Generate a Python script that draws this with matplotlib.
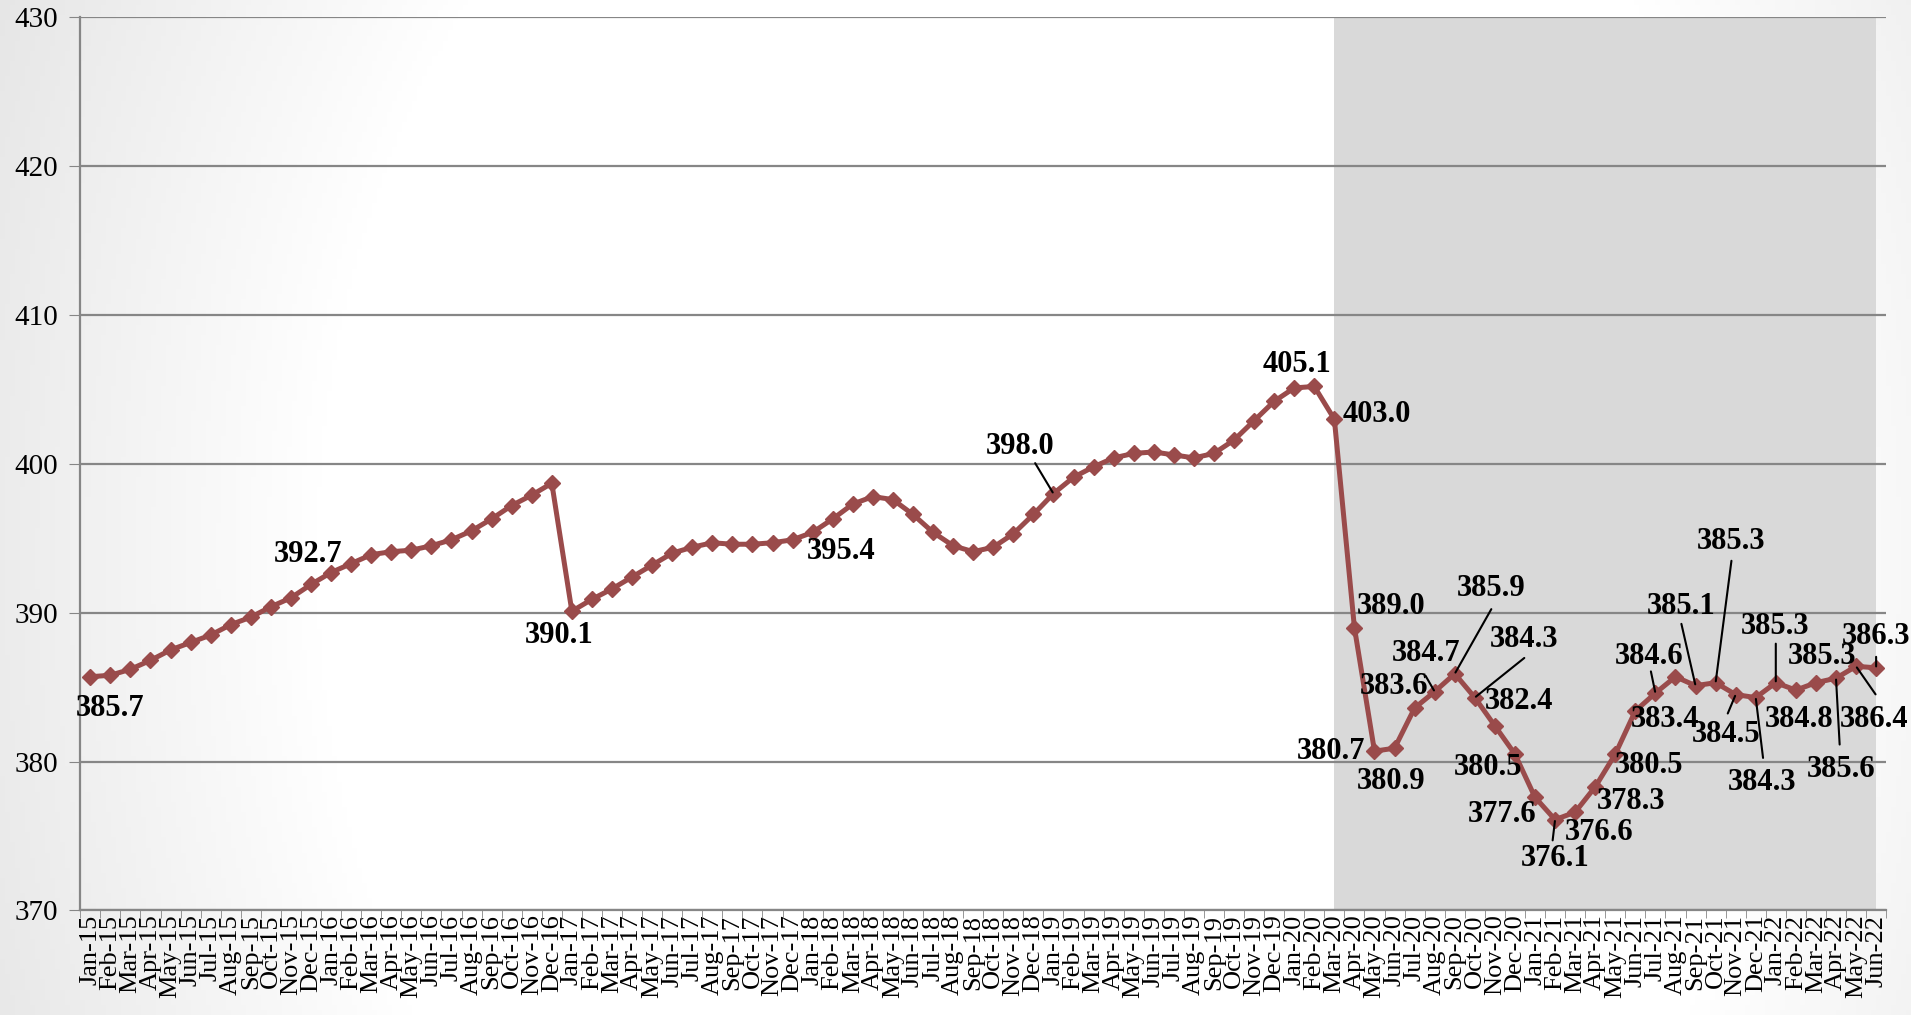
import numpy as np
import matplotlib
matplotlib.use("Agg")
import matplotlib.pyplot as plt

# monthly values Jan-15 .. Jun-22
months = ["Jan", "Feb", "Mar", "Apr", "May", "Jun",
          "Jul", "Aug", "Sep", "Oct", "Nov", "Dec"]
years = ["15", "16", "17", "18", "19", "20", "21", "22"]
tick_labels = [f"{m}-{y}" for y in years for m in months][:90]

v2015 = [385.7, 385.8, 386.2, 386.8, 387.5, 388.0, 388.5, 389.2, 389.7, 390.4, 391.0, 391.9]
v2016 = [392.7, 393.3, 393.9, 394.1, 394.2, 394.5, 394.9, 395.5, 396.3, 397.2, 397.9, 398.7]
v2017 = [390.1, 390.9, 391.6, 392.4, 393.2, 394.0, 394.4, 394.7, 394.6, 394.6, 394.7, 394.9]
v2018 = [395.4, 396.3, 397.3, 397.8, 397.6, 396.6, 395.4, 394.5, 394.1, 394.4, 395.3, 396.6]
v2019 = [398.0, 399.1, 399.8, 400.4, 400.7, 400.8, 400.6, 400.4, 400.7, 401.6, 402.9, 404.2]
v2020 = [405.1, 405.2, 403.0, 389.0, 380.7, 380.9, 383.6, 384.7, 385.9, 384.3, 382.4, 380.5]
v2021 = [377.6, 376.1, 376.6, 378.3, 380.5, 383.4, 384.6, 385.7, 385.1, 385.3, 384.5, 384.3]
v2022 = [385.3, 384.8, 385.3, 385.6, 386.4, 386.3]
values = v2015 + v2016 + v2017 + v2018 + v2019 + v2020 + v2021 + v2022

shade_start = "Mar-20"

# label placement (pixel offsets from the point: label centre, optional leader start)
label_pos = {
    0: ((16, 26), None), 12: ((-19, -15), None), 24: ((-10, 20), None),
    36: ((23, 16), None), 48: ((-27, -39), (-15, -25)), 60: ((2, -19), None),
    62: ((35, -4), None), 63: ((30, -17), None), 64: ((-36, 0), None),
    65: ((-3, 27), None), 66: ((-17, -18), None), 67: ((-7, -31), (-7.5, -13)),
    68: ((30, -70), (30, -53)), 69: ((40, -48), (40.6, -32.5)), 70: ((20, -20), None),
    71: ((-22, 11), None), 72: ((-27, 14), None), 73: ((0, 32), (-2, 17)),
    74: ((20, 17), None), 75: ((29.5, 12), None), 76: ((28, 9.5), None),
    77: ((24, 7), None), 78: ((-5, -30), (-3.7, -17.8)), 80: ((-12, -65), (-11.6, -50.7)),
    81: ((12.6, -116), (13, -100)), 82: ((-8, 33), (-6.5, 15.5)), 83: ((5.5, 70), (6, 49.5)),
    84: ((-0.5, -46), (0, -32)), 85: ((2.6, 24), None), 86: ((5.4, -21.5), None),
    87: ((3.8, 75), (3, 54.4)), 88: ((15, 44), (16, 23)), 89: ((0, -25.5), (0, -9)),
}
PX = 0.8777  # reference pixels -> points

plt.rcParams['font.family'] = ['Liberation Serif', 'DejaVu Serif']

fig = plt.figure(figsize=(19.11, 10.15), dpi=100)

# soft gray gradient background, mostly white in the middle
bg = fig.add_axes([0, 0, 1, 1], zorder=-10)
yy, xx = np.mgrid[0:1:200j, 0:1:380j]
r = np.sqrt(((xx - 0.55) / 0.55) ** 2 + ((yy - 0.55) / 1.3) ** 2)
shade = 1 - 0.10 * np.clip((r - 0.7) / 0.4, 0, 1)
bg.imshow(np.dstack([shade] * 3), aspect='auto', extent=[0, 1, 0, 1])
bg.axis('off')

ax = fig.add_axes([0.042, 0.103, 0.945, 0.880])
ax.set_facecolor('none')

x = np.arange(len(values))
s0 = tick_labels.index(shade_start)
ax.axvspan(s0, len(values) - 1, color='#d9d9d9', zorder=1, lw=0)

ax.plot(x, values, color='#9a4b4b', lw=3.6, marker='D', markersize=8, zorder=3)

for i, ((dx, dy), lead) in label_pos.items():
    ax.annotate(f"{values[i]:.1f}", xy=(i, values[i]), xytext=(dx * PX, -dy * PX),
                textcoords='offset points', ha='center', va='center',
                fontsize=22, fontweight='bold', zorder=5)
    if lead is not None:
        ax.annotate('', xy=(i, values[i]), xytext=(lead[0] * PX, -lead[1] * PX),
                    textcoords='offset points',
                    arrowprops=dict(arrowstyle='-', color='black', lw=1.5,
                                    shrinkA=0, shrinkB=1), zorder=4)

ax.set_ylim(370, 430)
ax.set_yticks(np.arange(370, 431, 10))
ax.set_xlim(-0.5, len(values) - 0.5)
ax.set_xticks(x)
ax.set_xticklabels(tick_labels, rotation=90, fontsize=19)
ax.set_xticks(np.arange(-0.5, len(values), 1), minor=True)
ax.tick_params(axis='x', which='major', length=0, pad=3)
ax.tick_params(axis='x', which='minor', length=6, color='#868686')
ax.tick_params(axis='y', length=8, color='#868686', labelsize=21, pad=8)

ax.grid(axis='y', color='#868686', lw=1.6, zorder=0)
for side in ['top', 'right']:
    ax.spines[side].set_visible(False)
ax.spines['left'].set_color('#868686')
ax.spines['left'].set_linewidth(1.6)
ax.spines['bottom'].set_color('#868686')
ax.spines['bottom'].set_linewidth(1.6)

fig.savefig("out.png", dpi=100)
